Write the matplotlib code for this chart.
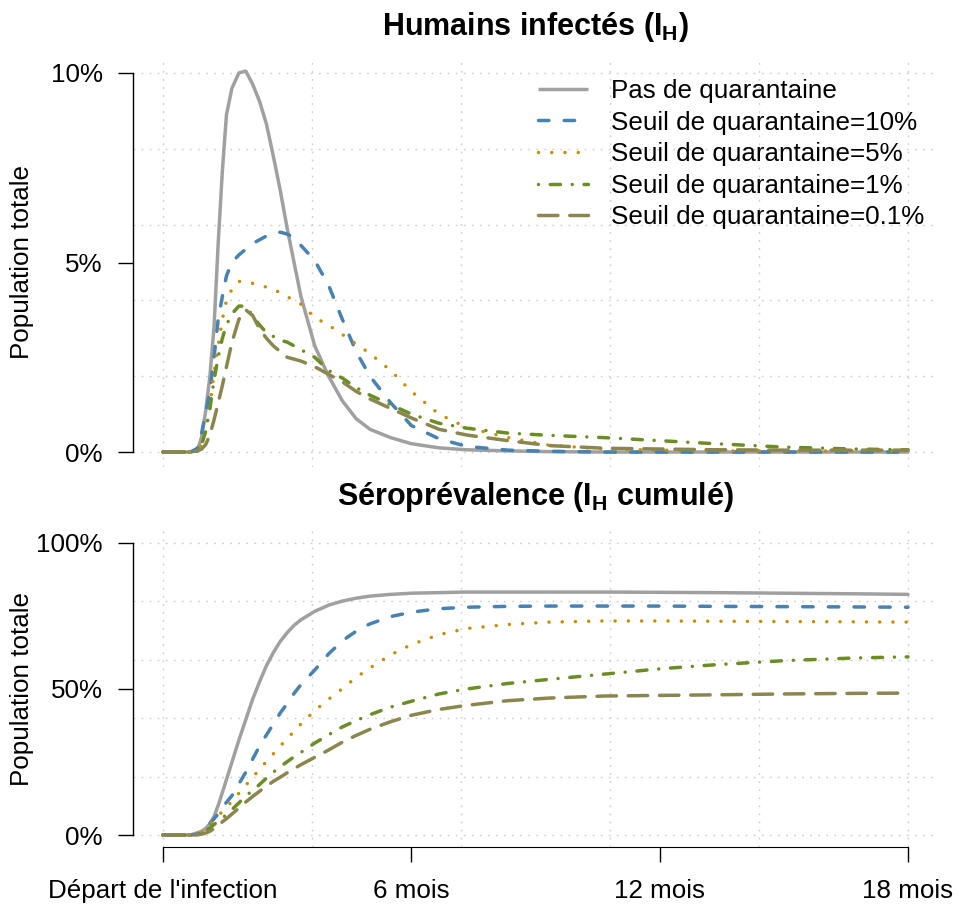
import matplotlib
matplotlib.use("Agg")
import matplotlib.pyplot as plt
from matplotlib.lines import Line2D

plt.rcParams['font.family'] = ['Liberation Sans', 'DejaVu Sans']
plt.rcParams['mathtext.fontset'] = 'custom'
plt.rcParams['mathtext.rm'] = 'Liberation Sans'
plt.rcParams['mathtext.bf'] = 'Liberation Sans:bold'
plt.rcParams['mathtext.it'] = 'Liberation Sans:italic'

# ---------------- data (days since start of infection) ----------------
days = [0, 20, 25, 28, 31, 34, 37, 40, 43, 46, 50, 55, 60, 65, 70, 75, 80, 85, 90, 95,
        100, 110, 120, 130, 140, 150, 165, 180, 200, 220, 250, 280, 320, 360, 400, 450, 500, 540]

# Infected humans (% of total population)
inf_none = [0, 0, 0.05, 0.4, 1.1, 2.0, 3.3, 5.5, 7.4, 8.9, 9.6, 10.0, 10.05, 9.7, 9.25, 8.65, 7.8, 6.9, 5.9, 5.0,
            4.1, 2.8, 2.0, 1.35, 0.88, 0.6, 0.38, 0.22, 0.11, 0.06, 0.03, 0.01, 0, 0, 0, 0, 0, 0]
inf_10 = [0, 0, 0.1, 0.5, 1.05, 1.6, 2.5, 3.5, 4.1, 4.65, 5.0, 5.2, 5.35, 5.5, 5.6, 5.7, 5.75, 5.8, 5.75, 5.65,
          5.45, 5.05, 4.4, 3.5, 2.65, 2.0, 1.3, 0.7, 0.35, 0.15, 0.05, 0.02, 0, 0, 0, 0, 0, 0]
inf_5 = [0, 0, 0.05, 0.2, 0.6, 1.2, 2.1, 2.8, 3.5, 4.0, 4.3, 4.5, 4.5, 4.45, 4.4, 4.35, 4.3, 4.2, 4.1, 4.0,
         3.9, 3.55, 3.35, 3.1, 2.85, 2.6, 2.15, 1.6, 1.0, 0.65, 0.38, 0.18, 0.08, 0.05, 0.03, 0.03, 0.03, 0.03]
inf_1 = [0, 0, 0.02, 0.2, 0.55, 1.15, 1.9, 2.5, 3.0, 3.35, 3.65, 3.85, 3.85, 3.6, 3.35, 3.15, 3.05, 2.95, 2.9, 2.8,
         2.7, 2.5, 2.15, 1.95, 1.7, 1.5, 1.25, 1.0, 0.76, 0.63, 0.5, 0.44, 0.38, 0.3, 0.22, 0.13, 0.08, 0.06]
inf_01 = [0, 0, 0.03, 0.08, 0.2, 0.45, 0.85, 1.3, 1.75, 2.25, 2.9, 3.5, 3.75, 3.6, 3.25, 3.0, 2.8, 2.65, 2.5, 2.45,
          2.4, 2.25, 2.05, 1.85, 1.6, 1.4, 1.15, 0.9, 0.6, 0.45, 0.3, 0.17, 0.1, 0.08, 0.06, 0.05, 0.05, 0.05]

# Seroprevalence (cumulative I_H, % of total population)
sero_none = [0, 0, 0.8, 1.3, 2.3, 3.8, 6.3, 10.2, 14.5, 19, 25, 32.5, 39.5, 46.5, 52.5, 58, 62.5, 66.3, 69.3, 71.8,
             73.7, 76.6, 78.7, 80.1, 81.1, 81.8, 82.4, 82.8, 83.0, 83.2, 83.2, 83.2, 83.2, 83.1, 83.0, 82.8, 82.6, 82.4]
sero_10 = [0, 0, 0.3, 1.0, 2.2, 4.0, 5.6, 7.2, 9.5, 11.2, 13.5, 17.5, 21.5, 26, 30.5, 34.3, 38, 41.8, 45, 48.5,
           51.5, 56.5, 62, 66.5, 69.8, 72.3, 74.8, 76.3, 77.5, 78, 78.3, 78.4, 78.4, 78.4, 78.3, 78.2, 78.1, 78.0]
sero_5 = [0, 0, 0.3, 1.0, 2.2, 3.6, 5.2, 6.5, 8.1, 9.6, 11.5, 14.3, 17, 19.8, 22.5, 25.2, 27.8, 30.5, 33, 35.5,
          38, 42.6, 46.5, 50.1, 54, 57.2, 61.7, 65.2, 68.6, 70.7, 72.1, 72.9, 73.3, 73.3, 73.2, 73.1, 73.0, 72.9]
sero_1 = [0, 0, 0.1, 0.6, 1.4, 2.4, 3.6, 4.7, 5.8, 7.0, 8.7, 11.0, 13.3, 15.3, 17.3, 19.5, 21.5, 23.4, 25.1, 26.8,
          28.3, 31.5, 34.3, 37.0, 39.2, 41.2, 43.8, 45.8, 48.3, 50, 51.9, 53.3, 55.1, 56.9, 58.3, 59.7, 60.6, 61.0]
sero_01 = [0, 0, 0.1, 0.3, 0.7, 1.3, 2.2, 3.2, 4.5, 5.6, 7.2, 9.2, 11.3, 13.2, 15.0, 16.7, 18.4, 19.8, 21.3, 22.7,
           24.1, 26.6, 29.1, 31.8, 34.1, 36.2, 38.8, 41.0, 43.0, 44.4, 46, 46.9, 47.6, 47.8, 48.0, 48.3, 48.5, 48.6]

labels = ["Pas de quarantaine", "Seuil de quarantaine=10%", "Seuil de quarantaine=5%",
          "Seuil de quarantaine=1%", "Seuil de quarantaine=0.1%"]
x_ticks = [0, 180, 360, 540]
x_ticklabels = ["Départ de l'infection", "6 mois", "12 mois", "18 mois"]
top_yticks = [0, 5, 10]
top_yticklabels = ["0%", "5%", "10%"]
bot_yticks = [0, 50, 100]
bot_yticklabels = ["0%", "50%", "100%"]

# ---------------- styles ----------------
colors = ["#A0A0A0", "#4682B4", "#CD8C00", "#6B8E23", "#8B864E"]
LW = 2.5
styles = ["-", (0, (3.0, 4.4)), (0, (0.01, 3.8)), (0, (0.01, 3.4, 2.9, 3.4)), (0, (5.6, 3.4))]

W, H = 962, 911
fig = plt.figure(figsize=(W / 100, H / 100), dpi=100)

def px_axes(l, t, r, b):
    return fig.add_axes([l / W, 1 - b / H, (r - l) / W, (b - t) / H])

ax1 = px_axes(133.2, 57.8, 937.8, 467.2)
ax2 = px_axes(133.2, 531.3, 937.8, 846.7)

FS = 18.7
grid_kw = dict(color="#CFCFCF", lw=1.0, linestyle=(0, (1.3, 4.5)), zorder=0)

def setup(ax, ylo, yhi, yt, ytl, gridy):
    ax.set_xlim(-21.6, 561.6)
    rng = yhi - ylo
    ax.set_ylim(ylo - 0.04 * rng, yhi + 0.04 * rng)
    for s in ["top", "right", "bottom"]:
        ax.spines[s].set_visible(False)
    ax.spines["left"].set_bounds(ylo, yhi)
    ax.spines["left"].set_linewidth(1.0)
    ax.set_yticks(yt)
    ax.set_yticklabels(ytl, fontsize=FS)
    ax.tick_params(axis="y", length=11, width=1.0, pad=11)
    for gx in [0, 108, 216, 324, 432, 540]:
        ax.axvline(gx, **grid_kw)
    for gy in gridy:
        ax.axhline(gy, **grid_kw)

setup(ax1, 0, 10, top_yticks, top_yticklabels, [0, 2, 4, 6, 8, 10])
setup(ax2, 0, 100, bot_yticks, bot_yticklabels, [0, 20, 40, 60, 80, 100])

ax1.set_xticks([])
ax2.spines["bottom"].set_visible(True)
ax2.spines["bottom"].set_bounds(0, 540)
ax2.set_xticks(x_ticks)
ax2.set_xticklabels(x_ticklabels, fontsize=FS)
ax2.tick_params(axis="x", length=11, width=1.0, pad=12)

top_series = [inf_none, inf_10, inf_5, inf_1, inf_01]
bot_series = [sero_none, sero_10, sero_5, sero_1, sero_01]
for i in range(5):
    ax1.plot(days, top_series[i], color=colors[i], lw=LW, linestyle=styles[i],
             dash_capstyle="round", solid_capstyle="round", solid_joinstyle="round", zorder=3)
    ax2.plot(days, bot_series[i], color=colors[i], lw=LW, linestyle=styles[i],
             dash_capstyle="round", solid_capstyle="round", solid_joinstyle="round", zorder=3)

handles = [Line2D([], [], color=colors[i], lw=LW, linestyle=styles[i], dash_capstyle="round",
                  solid_capstyle="butt") for i in range(5)]
fig.legend(handles, labels, loc="upper left", bbox_to_anchor=(538 / W, 1 - 79 / H),
           frameon=False, fontsize=FS, handlelength=1.93, handletextpad=0.88,
           labelspacing=0.29, borderpad=0, borderaxespad=0)

for yc in [262.5, 689.0]:
    fig.text(22 / W, 1 - yc / H, "Population totale", fontsize=FS, rotation=90,
             ha="center", va="center")

fig.text(535.5 / W, 1 - 35.5 / H, r"Humains infectés ($\mathbf{I_H}$)", fontsize=22,
         fontweight="bold", ha="center", va="baseline")
fig.text(535.5 / W, 1 - 505.5 / H, r"Séroprévalence ($\mathbf{I_H}$ cumulé)", fontsize=22,
         fontweight="bold", ha="center", va="baseline")

fig.savefig("out.png", dpi=100, facecolor="white")
